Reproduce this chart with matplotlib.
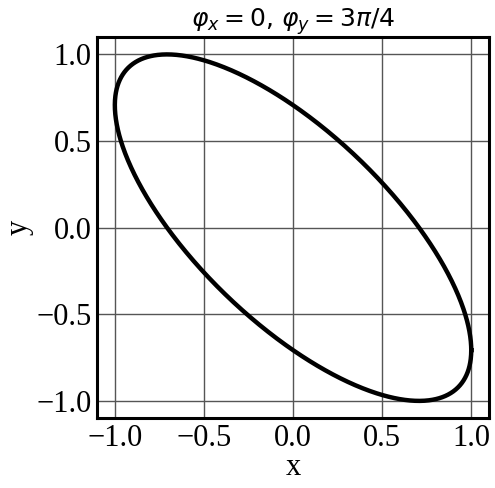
import numpy as np
import matplotlib
matplotlib.use("Agg")
import matplotlib.pyplot as plt

# Lissajous parameters (read from the title)
amp_x = 1.0
amp_y = 1.0
freq_x = 1
freq_y = 1
phase_x = 0.0
phase_y = 3 * np.pi / 4

t = np.linspace(0, 2 * np.pi, 1000)
x = amp_x * np.cos(freq_x * t + phase_x)
y = amp_y * np.cos(freq_y * t + phase_y)

plt.rcParams['font.family'] = ['Liberation Serif', 'DejaVu Serif']
plt.rcParams['mathtext.fontset'] = 'dejavusans'

fig = plt.figure(figsize=(4.95, 4.88), dpi=100)
ax = fig.add_axes([0.196, 0.143, 0.792, 0.781])

ax.plot(x, y, color='black', lw=3.2)
ax.set_xlim(-1.1, 1.1)
ax.set_ylim(-1.1, 1.1)
ax.set_xticks([-1.0, -0.5, 0.0, 0.5, 1.0])
ax.set_yticks([-1.0, -0.5, 0.0, 0.5, 1.0])
ax.grid(True, color='#555555', lw=1)
ax.tick_params(length=0, labelsize=22, pad=4)

for s in ax.spines.values():
    s.set_linewidth(2.2)
    s.set_color('black')

ax.set_xlabel('x', fontsize=22, labelpad=0)
ax.set_ylabel('y', fontsize=22, labelpad=2)
ax.set_title(r'$\varphi_x = 0$, $\varphi_y = 3\pi/4$', fontsize=18,
             family='DejaVu Sans', pad=4)

fig.savefig('out.png', dpi=100)
